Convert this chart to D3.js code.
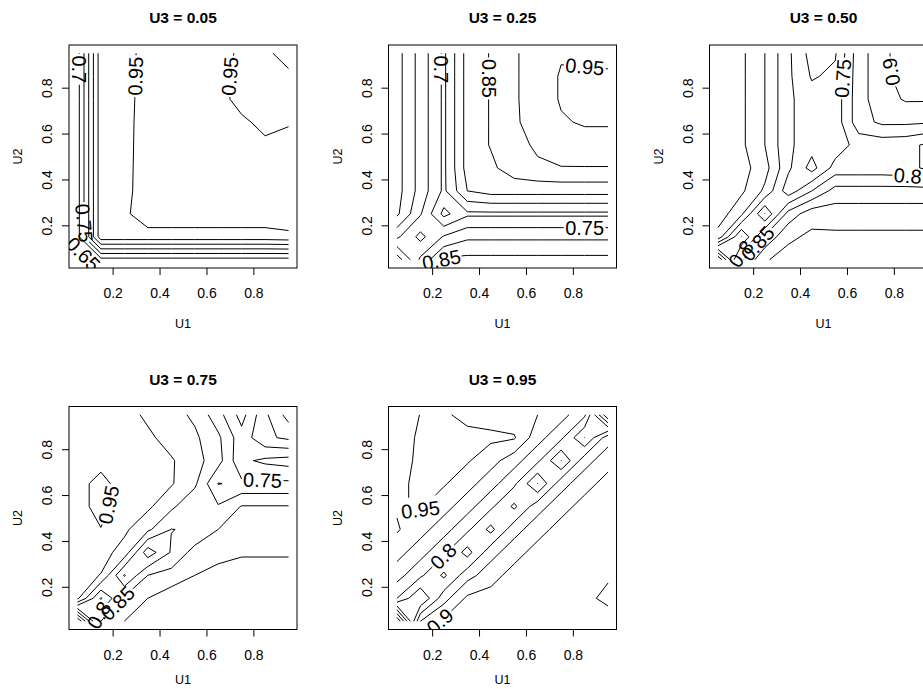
<!DOCTYPE html>
<html>
<head>
<meta charset="utf-8">
<script src="https://cdn.jsdelivr.net/npm/d3@7"></script>
<style>
html,body{margin:0;padding:0;background:#fff;}
svg{display:block;}
</style>
</head>
<body>
<svg id="chart" width="923" height="689"></svg>
<script>
// ---------------- data ----------------
// grid positions of the estimates (U1 = columns, U2 = rows)
const gridU1 = [0.05, 0.15, 0.25, 0.35, 0.45, 0.55, 0.65, 0.75, 0.85, 0.95];
const gridU2 = [0.05, 0.15, 0.25, 0.35, 0.45, 0.55, 0.65, 0.75, 0.85, 0.95];
const contourLevels = [0.3, 0.35, 0.4, 0.45, 0.5, 0.55, 0.6, 0.65, 0.7, 0.75, 0.8, 0.85, 0.9, 0.95];
const xTickValues = [0.2, 0.4, 0.6, 0.8];
const yTickValues = [0.2, 0.4, 0.6, 0.8];
const panelTitles = ["U3 = 0.05", "U3 = 0.25", "U3 = 0.50", "U3 = 0.75", "U3 = 0.95"];

// each row = one U2 value (first row U2 = 0.05, last row U2 = 0.95); columns = U1 0.05 ... 0.95
const zU3_005 = [
  [0.62, 0.6825, 0.6825, 0.6825, 0.6825, 0.6825, 0.6825, 0.6825, 0.6825, 0.6825],
  [0.68, 0.93, 0.93, 0.93, 0.93, 0.93, 0.93, 0.93, 0.93, 0.935],
  [0.68, 0.93, 0.94, 0.98, 0.98, 0.98, 0.98, 0.98, 0.98, 0.99],
  [0.68, 0.93, 0.939, 0.97, 0.97, 0.97, 0.97, 0.97, 0.97, 0.97],
  [0.68, 0.93, 0.938, 0.97, 0.97, 0.97, 0.97, 0.97, 0.97, 0.97],
  [0.68, 0.93, 0.937, 0.97, 0.97, 0.97, 0.97, 0.97, 0.96, 0.97],
  [0.68, 0.93, 0.936, 0.97, 0.97, 0.97, 0.97, 0.96, 0.935, 0.945],
  [0.68, 0.93, 0.934, 0.97, 0.97, 0.97, 0.97, 0.93, 0.93, 0.93],
  [0.68, 0.93, 0.932, 0.97, 0.97, 0.97, 0.97, 0.93, 0.92, 0.91],
  [0.68, 0.93, 0.93, 0.97, 0.97, 0.97, 0.97, 0.94, 0.91, 0.88]
];
const zU3_025 = [
  [0.62, 0.76, 0.86, 0.864, 0.864, 0.864, 0.864, 0.864, 0.864, 0.864],
  [0.76, 0.685, 0.755, 0.79, 0.79, 0.79, 0.79, 0.79, 0.79, 0.79],
  [0.86, 0.755, 0.635, 0.69, 0.69, 0.69, 0.69, 0.69, 0.69, 0.69],
  [0.87, 0.78, 0.69, 0.8, 0.82, 0.82, 0.82, 0.82, 0.82, 0.82],
  [0.87, 0.78, 0.69, 0.82, 0.84, 0.875, 0.89, 0.898, 0.898, 0.898],
  [0.87, 0.78, 0.69, 0.82, 0.853, 0.88, 0.91, 0.925, 0.93, 0.93],
  [0.87, 0.78, 0.69, 0.82, 0.853, 0.895, 0.915, 0.945, 0.955, 0.955],
  [0.87, 0.78, 0.69, 0.82, 0.853, 0.895, 0.92, 0.955, 0.96, 0.96],
  [0.87, 0.78, 0.69, 0.82, 0.853, 0.895, 0.92, 0.955, 0.957, 0.957],
  [0.87, 0.78, 0.69, 0.82, 0.853, 0.895, 0.92, 0.945, 0.94, 0.935]
];
const zU3_050 = [
  [0.55, 0.84, 0.945, 0.97, 0.97, 0.97, 0.97, 0.97, 0.97, 0.97],
  [0.88, 0.699, 0.86, 0.94, 0.96, 0.96, 0.96, 0.96, 0.96, 0.96],
  [0.93, 0.86, 0.699, 0.87, 0.93, 0.925, 0.925, 0.925, 0.925, 0.925],
  [0.94, 0.91, 0.84, 0.72, 0.8, 0.87, 0.87, 0.87, 0.87, 0.87],
  [0.94, 0.92, 0.87, 0.76, 0.68, 0.77, 0.77, 0.77, 0.765, 0.74],
  [0.94, 0.91, 0.85, 0.76, 0.72, 0.72, 0.77, 0.77, 0.765, 0.74],
  [0.94, 0.91, 0.85, 0.76, 0.72, 0.72, 0.83, 0.86, 0.86, 0.855],
  [0.94, 0.91, 0.85, 0.76, 0.72, 0.72, 0.83, 0.88, 0.905, 0.905],
  [0.94, 0.91, 0.85, 0.76, 0.695, 0.71, 0.83, 0.88, 0.93, 0.93],
  [0.94, 0.91, 0.85, 0.76, 0.68, 0.695, 0.83, 0.88, 0.94, 0.95]
];
const zU3_075 = [
  [0.55, 0.85, 0.9, 0.93, 0.94, 0.945, 0.945, 0.945, 0.945, 0.945],
  [0.91, 0.745, 0.86, 0.9, 0.93, 0.94, 0.945, 0.94, 0.94, 0.94],
  [0.92, 0.898, 0.745, 0.85, 0.87, 0.9, 0.91, 0.92, 0.92, 0.92],
  [0.93, 0.92, 0.88, 0.72, 0.805, 0.87, 0.89, 0.895, 0.895, 0.895],
  [0.935, 0.949, 0.91, 0.86, 0.799, 0.805, 0.85, 0.875, 0.875, 0.875],
  [0.94, 0.96, 0.93, 0.91, 0.86, 0.81, 0.805, 0.853, 0.853, 0.853],
  [0.94, 0.96, 0.935, 0.93, 0.905, 0.86, 0.748, 0.76, 0.76, 0.76],
  [0.93, 0.94, 0.92, 0.91, 0.905, 0.87, 0.82, 0.71, 0.69, 0.68],
  [0.93, 0.93, 0.92, 0.91, 0.88, 0.86, 0.81, 0.72, 0.79, 0.81],
  [0.93, 0.93, 0.92, 0.89, 0.87, 0.84, 0.77, 0.68, 0.79, 0.87]
];
const zU3_095 = [
  [0.5, 0.85, 0.91, 0.92, 0.93, 0.93, 0.93, 0.93, 0.93, 0.93],
  [0.8, 0.7, 0.83, 0.91, 0.92, 0.93, 0.93, 0.93, 0.94, 0.96],
  [0.87, 0.81, 0.74, 0.83, 0.88, 0.92, 0.93, 0.93, 0.93, 0.945],
  [0.92, 0.87, 0.81, 0.73, 0.83, 0.88, 0.92, 0.93, 0.93, 0.93],
  [0.955, 0.92, 0.87, 0.81, 0.735, 0.83, 0.88, 0.92, 0.93, 0.93],
  [0.945, 0.955, 0.92, 0.87, 0.81, 0.74, 0.83, 0.88, 0.92, 0.93],
  [0.94, 0.96, 0.955, 0.92, 0.87, 0.81, 0.699, 0.83, 0.88, 0.92],
  [0.93, 0.96, 0.96, 0.955, 0.92, 0.87, 0.81, 0.699, 0.83, 0.88],
  [0.92, 0.96, 0.96, 0.96, 0.96, 0.955, 0.87, 0.81, 0.699, 0.83],
  [0.9, 0.952, 0.955, 0.94, 0.93, 0.92, 0.9, 0.87, 0.81, 0.55]
];

// contour labels: [level, approx U1, approx U2, read upward (optional)]
const labelsU3_005 = [[0.7, 0.06, 0.88], [0.95, 0.3, 0.85], [0.95, 0.69, 0.85], [0.75, 0.078, 0.21], [0.65, 0.075, 0.075]];
const labelsU3_025 = [[0.7, 0.21, 0.88], [0.85, 0.45, 0.84], [0.95, 0.85, 0.88], [0.75, 0.85, 0.2], [0.85, 0.2, 0.09]];
const labelsU3_050 = [[0.75, 0.59, 0.84], [0.9, 0.8, 0.87, 1], [0.8, 0.86, 0.42], [0.85, 0.22, 0.12], [0.8, 0.15, 0.075]];
const labelsU3_075 = [[0.95, 0.15, 0.56], [0.75, 0.84, 0.68], [0.85, 0.22, 0.13], [0.8, 0.16, 0.07]];
const labelsU3_095 = [[0.95, 0.15, 0.47], [0.8, 0.27, 0.31], [0.9, 0.2, 0.09]];

// ---------------- layout ----------------
const panels = [
  {title: panelTitles[0], z: zU3_005, labels: labelsU3_005, left: 69,    top: 45,    xlabOff: 60},
  {title: panelTitles[1], z: zU3_025, labels: labelsU3_025, left: 388.5, top: 45,    xlabOff: 60},
  {title: panelTitles[2], z: zU3_050, labels: labelsU3_050, left: 709.5, top: 45,    xlabOff: 60},
  {title: panelTitles[3], z: zU3_075, labels: labelsU3_075, left: 69,    top: 406.5, xlabOff: 54},
  {title: panelTitles[4], z: zU3_095, labels: labelsU3_095, left: 388.5, top: 406.5, xlabOff: 54}
];
const boxW = 228, boxH = 223;
const FONT = "'Liberation Sans', Arial, Helvetica, sans-serif";
const svg = d3.select("#chart");

// marching squares producing open/closed polylines in data space
function isolines(z, lev) {
  const ny = z.length, nx = z[0].length;
  const pts = new Map(), adj = new Map();
  function ept(key, x0, y0, v0, x1, y1, v1) {
    if (!pts.has(key)) { const t = (lev - v0) / (v1 - v0); pts.set(key, [x0 + t * (x1 - x0), y0 + t * (y1 - y0)]); }
    return key;
  }
  function link(a, b) {
    if (!adj.has(a)) adj.set(a, []);
    if (!adj.has(b)) adj.set(b, []);
    adj.get(a).push(b); adj.get(b).push(a);
  }
  for (let j = 0; j < ny - 1; j++) for (let i = 0; i < nx - 1; i++) {
    const v0 = z[j][i], v1 = z[j][i + 1], v2 = z[j + 1][i + 1], v3 = z[j + 1][i];
    const a0 = v0 >= lev, a1 = v1 >= lev, a2 = v2 >= lev, a3 = v3 >= lev;
    const E = [null, null, null, null];
    if (a0 !== a1) E[0] = ept(`h${i},${j}`, gridU1[i], gridU2[j], v0, gridU1[i + 1], gridU2[j], v1);
    if (a1 !== a2) E[1] = ept(`v${i + 1},${j}`, gridU1[i + 1], gridU2[j], v1, gridU1[i + 1], gridU2[j + 1], v2);
    if (a3 !== a2) E[2] = ept(`h${i},${j + 1}`, gridU1[i], gridU2[j + 1], v3, gridU1[i + 1], gridU2[j + 1], v2);
    if (a0 !== a3) E[3] = ept(`v${i},${j}`, gridU1[i], gridU2[j], v0, gridU1[i], gridU2[j + 1], v3);
    const c = E.filter(k => k !== null);
    if (c.length === 2) link(c[0], c[1]);
    else if (c.length === 4) {
      const ac = (v0 + v1 + v2 + v3) / 4 >= lev;
      if (ac === a0) { link(E[0], E[1]); link(E[2], E[3]); }
      else { link(E[3], E[0]); link(E[1], E[2]); }
    }
  }
  const used = new Set();
  const sk = (a, b) => a < b ? a + "|" + b : b + "|" + a;
  function walk(start) {
    const line = [start]; let cur = start;
    for (;;) {
      const nb = adj.get(cur).find(k => !used.has(sk(cur, k)));
      if (nb === undefined) break;
      used.add(sk(cur, nb)); line.push(nb); cur = nb;
    }
    return line.map(k => pts.get(k));
  }
  const lines = [];
  for (const [k, nb] of adj) if (nb.length === 1 && !used.has(sk(k, nb[0]))) lines.push(walk(k));
  for (const [k, nb] of adj) for (const n of nb) if (!used.has(sk(k, n))) lines.push(walk(k));
  return lines;
}

function cumLen(p) {
  const c = [0];
  for (let k = 1; k < p.length; k++) c.push(c[k - 1] + Math.hypot(p[k][0] - p[k - 1][0], p[k][1] - p[k - 1][1]));
  return c;
}
function pointAt(p, c, s) {
  const L = c[c.length - 1];
  s = Math.max(0, Math.min(L, s));
  let k = 1;
  while (k < c.length - 1 && c[k] < s) k++;
  const seg = (c[k] - c[k - 1]) || 1, t = (s - c[k - 1]) / seg;
  return [p[k - 1][0] + t * (p[k][0] - p[k - 1][0]), p[k - 1][1] + t * (p[k][1] - p[k - 1][1])];
}
function slicePath(p, c, s0, s1) {
  const out = [pointAt(p, c, s0)];
  for (let k = 0; k < p.length; k++) if (c[k] > s0 && c[k] < s1) out.push(p[k]);
  out.push(pointAt(p, c, s1));
  return out;
}
const fmtLevel = v => String(+v.toFixed(2));

panels.forEach((P, pi) => {
  const x = d3.scaleLinear().domain([0.014, 0.986]).range([P.left, P.left + boxW]);
  const y = d3.scaleLinear().domain([0.014, 0.986]).range([P.top + boxH, P.top]);
  const g = svg.append("g");
  const clipId = "clip" + pi;
  svg.append("clipPath").attr("id", clipId).append("rect")
    .attr("x", P.left).attr("y", P.top).attr("width", boxW).attr("height", boxH);

  // title
  g.append("text").attr("x", P.left + boxW / 2).attr("y", P.top - 22)
    .attr("text-anchor", "middle").attr("font-family", FONT).attr("font-weight", "bold")
    .attr("font-size", 15.5).attr("fill", "#000").text(P.title);

  // axes
  const ax = g.append("g").attr("transform", `translate(0,${P.top + boxH})`)
    .call(d3.axisBottom(x).tickValues(xTickValues).tickFormat(d3.format(".1f")).tickSize(7).tickSizeOuter(0));
  ax.select(".domain").remove();
  ax.attr("font-family", FONT).attr("font-size", 14);
  ax.selectAll(".tick line").attr("stroke", "#000");
  ax.selectAll(".tick text").attr("y", 30).attr("dy", null).attr("fill", "#000");

  const ay = g.append("g").attr("transform", `translate(${P.left},0)`)
    .call(d3.axisLeft(y).tickValues(yTickValues).tickFormat(d3.format(".1f")).tickSize(7).tickSizeOuter(0));
  ay.select(".domain").remove();
  ay.attr("font-family", FONT).attr("font-size", 14);
  ay.selectAll(".tick line").attr("stroke", "#000");
  ay.selectAll(".tick text").attr("x", null).attr("dy", null).attr("text-anchor", "middle")
    .attr("transform", "translate(-17,0) rotate(-90)").attr("fill", "#000");

  g.append("text").attr("x", P.left + boxW / 2).attr("y", P.top + boxH + P.xlabOff)
    .attr("text-anchor", "middle").attr("font-family", FONT).attr("font-size", 12.5).attr("fill", "#000").text("U1");
  g.append("text").attr("transform", `translate(${P.left - 47},${P.top + boxH / 2}) rotate(-90)`)
    .attr("text-anchor", "middle").attr("font-family", FONT).attr("font-size", 12.5).attr("fill", "#000").text("U2");

  // contour lines in pixel space
  const all = [];
  contourLevels.forEach(lev => {
    isolines(P.z, lev).forEach(line => {
      const px = line.map(d => [x(d[0]), y(d[1])]);
      all.push({lev, px, cum: cumLen(px), gaps: []});
    });
  });

  const plot = g.append("g").attr("clip-path", `url(#${clipId})`);
  const labelLayer = plot.append("g");

  P.labels.forEach(([lev, u1, u2, up]) => {
    const tx = x(u1), ty = y(u2);
    let best = null;
    all.filter(l => Math.abs(l.lev - lev) < 1e-9).forEach(l => {
      for (let k = 1; k < l.px.length; k++) {
        const a = l.px[k - 1], b = l.px[k];
        const dx = b[0] - a[0], dy = b[1] - a[1], L2 = dx * dx + dy * dy || 1;
        let t = ((tx - a[0]) * dx + (ty - a[1]) * dy) / L2; t = Math.max(0, Math.min(1, t));
        const qx = a[0] + t * dx, qy = a[1] + t * dy, d = Math.hypot(tx - qx, ty - qy);
        if (!best || d < best.d) best = {d, l, s: l.cum[k - 1] + t * Math.sqrt(L2)};
      }
    });
    if (!best || best.d > 45) return;
    const txt = labelLayer.append("text").attr("font-family", FONT).attr("font-size", 20)
      .attr("text-anchor", "middle").attr("dominant-baseline", "central").attr("fill", "#000")
      .text(fmtLevel(lev));
    const w = txt.node().getComputedTextLength();
    const l = best.l;
    const p0 = pointAt(l.px, l.cum, best.s - w / 2), p1 = pointAt(l.px, l.cum, best.s + w / 2);
    let ang = Math.atan2(p1[1] - p0[1], p1[0] - p0[0]) * 180 / Math.PI;
    if (ang > 90) ang -= 180;
    if (ang <= -90) ang += 180;
    if (up && ang > 45) ang -= 180;
    const c = pointAt(l.px, l.cum, best.s);
    txt.attr("transform", `translate(${c[0]},${c[1]}) rotate(${ang})`);
    l.gaps.push([best.s - w / 2 - 1.5, best.s + w / 2 + 1.5]);
  });

  const lineGen = d3.line();
  all.forEach(l => {
    const L = l.cum[l.cum.length - 1];
    const gaps = l.gaps.slice().sort((a, b) => a[0] - b[0]);
    let s = 0;
    const pieces = [];
    gaps.forEach(([a, b]) => { if (a > s) pieces.push([s, a]); s = Math.max(s, b); });
    if (s < L) pieces.push([s, L]);
    pieces.forEach(([a, b]) => {
      if (b - a < 0.3) return;
      plot.insert("path", ":first-child").attr("d", lineGen(slicePath(l.px, l.cum, a, b)))
        .attr("fill", "none").attr("stroke", "#000").attr("stroke-width", 1);
    });
  });

  // box
  g.append("rect").attr("x", P.left).attr("y", P.top).attr("width", boxW).attr("height", boxH)
    .attr("fill", "none").attr("stroke", "#000").attr("stroke-width", 1);
});
</script>
</body>
</html>
